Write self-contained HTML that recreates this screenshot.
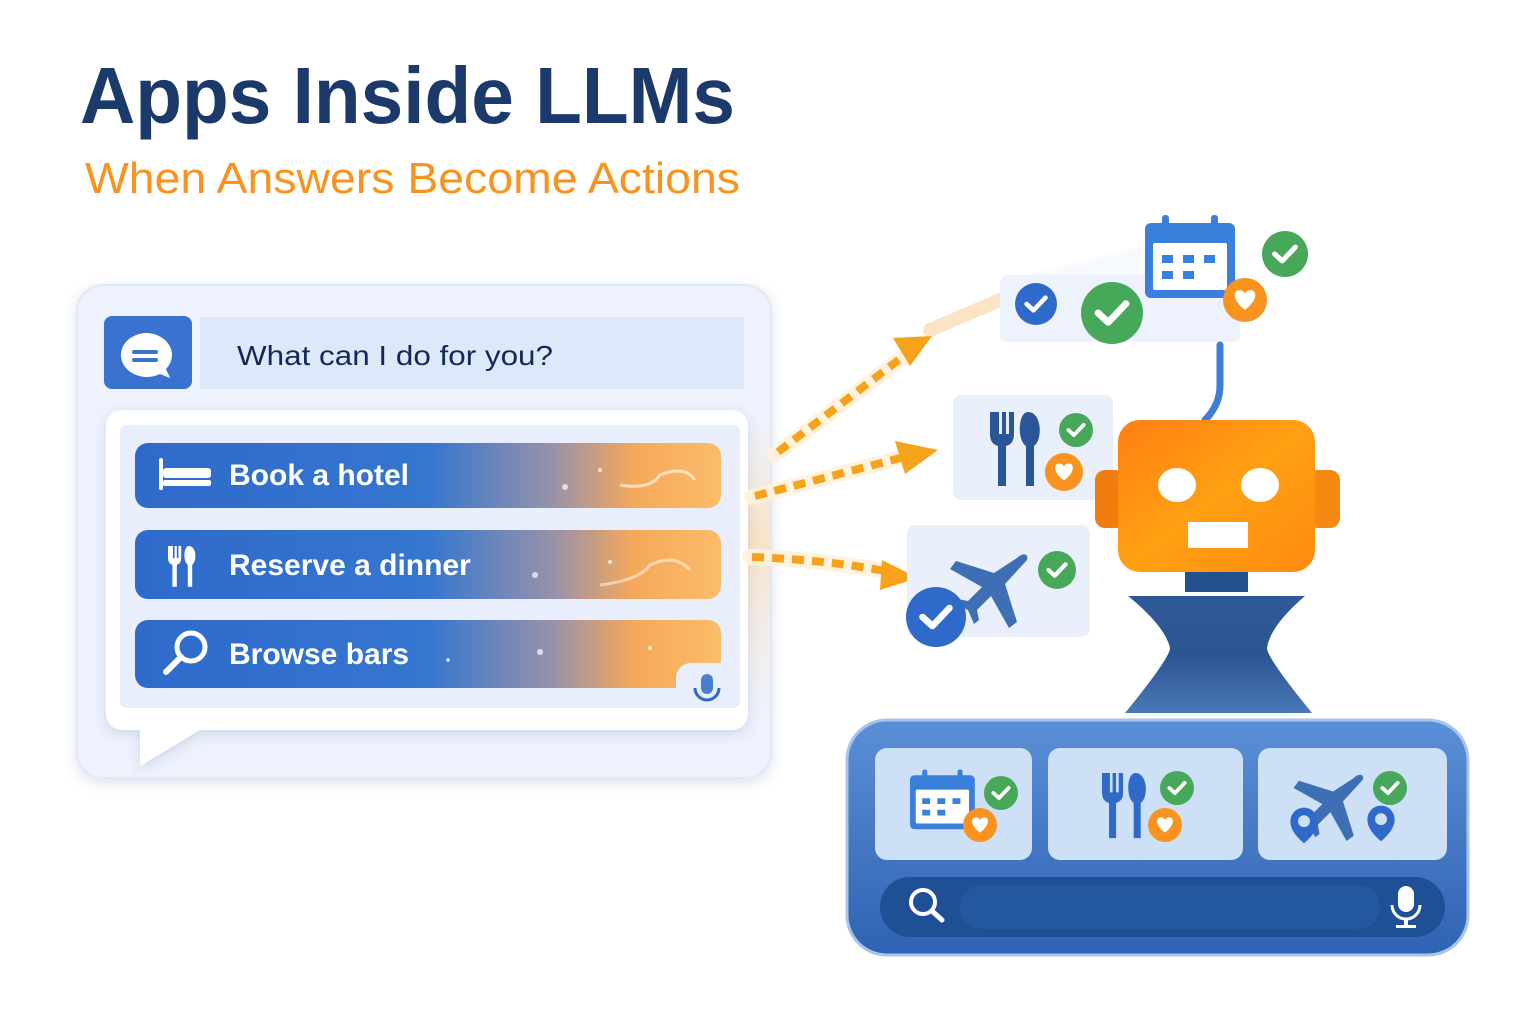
<!DOCTYPE html>
<html><head><meta charset="utf-8"><style>
html,body{margin:0;padding:0;background:#fff;width:1536px;height:1024px;overflow:hidden}
svg{display:block}
text{font-family:"Liberation Sans",sans-serif}
</style></head><body>
<svg width="1536" height="1024" viewBox="0 0 1536 1024" xmlns="http://www.w3.org/2000/svg">
<defs>
<linearGradient id="btn" x1="0" x2="1" y1="0" y2="0">
<stop offset="0" stop-color="#2f6acb"/><stop offset="0.5" stop-color="#3576cf"/><stop offset="0.72" stop-color="#9a93a8"/><stop offset="0.85" stop-color="#f5a85a"/><stop offset="1" stop-color="#fbbd6a"/>
</linearGradient>
<linearGradient id="head" x1="0" x2="1" y1="0" y2="1">
<stop offset="0" stop-color="#ff7f12"/><stop offset="0.5" stop-color="#ffa012"/><stop offset="1" stop-color="#ff8a10"/>
</linearGradient>
<linearGradient id="panel" x1="0" x2="0" y1="0" y2="1">
<stop offset="0" stop-color="#5b8fd6"/><stop offset="1" stop-color="#2f63b3"/>
</linearGradient>
<linearGradient id="hg" x1="0" x2="0" y1="0" y2="1">
<stop offset="0" stop-color="#2f5a98"/><stop offset="0.5" stop-color="#2a5590"/><stop offset="1" stop-color="#4a78b8"/>
</linearGradient>
<linearGradient id="glow" x1="0" x2="0" y1="0" y2="1">
<stop offset="0" stop-color="#ffe2b8" stop-opacity="0"/><stop offset="0.4" stop-color="#ffd9a0"/><stop offset="1" stop-color="#ffe7c7" stop-opacity="0"/>
</linearGradient>
<g id="chk"><circle r="1" /><polyline points="-0.45,0 -0.12,0.3 0.45,-0.3" fill="none" stroke="#fff" stroke-width="0.22" stroke-linecap="round" stroke-linejoin="round"/></g>
<g id="heart"><circle r="1" fill="#f7931e"/><path d="M0,0.45 C-0.6,0 -0.55,-0.45 -0.25,-0.45 C-0.1,-0.45 0,-0.35 0,-0.25 C0,-0.35 0.1,-0.45 0.25,-0.45 C0.55,-0.45 0.6,0 0,0.45Z" fill="#fff"/></g>
<g id="fork"><path d="M0,0 v22 q0,10 8,12 v40 h8 v-40 q8,-2 8,-12 v-22 h-5 v22 h-3 v-22 h-4 v22 h-3 v-22z" /><path d="M38,0 c-10,0 -11,28 -2,34 v40 h8 v-40 c9,-6 8,-34 -6,-34z"/></g>
<g id="plane"><path d="M32,-30 c6,-6 12,-4 10,2 l-22,24 l12,38 l-8,6 l-18,-32 l-14,14 l2,10 l-5,4 l-6,-14 l-14,-6 l4,-5 l10,2 l14,-14 l-32,-18 l6,-8 l38,12z"/></g>
<g id="cal"><rect x="0" y="10" width="90" height="75" rx="6" fill="#3b7fdc"/><rect x="8" y="30" width="74" height="47" rx="2" fill="#fff"/><rect x="17" y="2" width="7" height="18" rx="3" fill="#3b7fdc"/><rect x="66" y="2" width="7" height="18" rx="3" fill="#3b7fdc"/><g fill="#3b7fdc"><rect x="17" y="42" width="11" height="8"/><rect x="38" y="42" width="11" height="8"/><rect x="59" y="42" width="11" height="8"/><rect x="17" y="58" width="11" height="8"/><rect x="38" y="58" width="11" height="8"/></g></g>
<g id="pin"><path d="M0,18 c-14,-12 -16,-20 -16,-26 a16,16 0 0 1 32,0 c0,6 -2,14 -16,26z" fill="#2f6acb"/><circle cy="-8" r="7" fill="#cde0f6"/></g>
<filter id="sh" x="-10%" y="-10%" width="120%" height="130%"><feDropShadow dx="0" dy="4" stdDeviation="6" flood-color="#3a5a9a" flood-opacity="0.18"/></filter>
</defs>

<text x="80" y="123" font-size="80" font-weight="bold" fill="#1b3a6b" textLength="655" lengthAdjust="spacingAndGlyphs">Apps Inside LLMs</text>
<text x="85" y="193" font-size="44" fill="#f7931e" textLength="655" lengthAdjust="spacingAndGlyphs">When Answers Become Actions</text>

<rect x="77" y="285" width="694" height="493" rx="26" fill="#eef2fc" stroke="#e2e8f6" stroke-width="2" filter="url(#sh)"/>
<rect x="104" y="316" width="88" height="73" rx="8" fill="#3a72d0"/>
<path d="M146,333 a26,22 0 1 0 14,41 l10,4 l-4,-9 a26,22 0 0 0 -20,-36z" fill="#fff"/>
<rect x="132" y="350" width="26" height="4" rx="2" fill="#3a72d0"/><rect x="132" y="358" width="26" height="4" rx="2" fill="#3a72d0"/>
<rect x="200" y="317" width="544" height="72" fill="#dde8fa"/>
<text x="237" y="365" font-size="28" fill="#14285a" textLength="316" lengthAdjust="spacingAndGlyphs">What can I do for you?</text>

<rect x="748" y="420" width="22" height="300" fill="url(#glow)" opacity="0.6"/>

<path d="M122,410 h610 a16,16 0 0 1 16,16 v288 a16,16 0 0 1 -16,16 h-532 l-60,36 v-36 h-18 a16,16 0 0 1 -16,-16 v-288 a16,16 0 0 1 16,-16z" fill="#fff" filter="url(#sh)"/>
<rect x="120" y="425" width="620" height="283" rx="6" fill="#e8eefb"/>

<rect x="135" y="443" width="586" height="65" rx="13" fill="url(#btn)"/>
<rect x="135" y="530" width="586" height="69" rx="13" fill="url(#btn)"/>
<path d="M148,620 h560 a13,13 0 0 1 13,13 v30 h-30 a15,15 0 0 0 -15,15 v10 h-528 a13,13 0 0 1 -13,-13 v-42 a13,13 0 0 1 13,-13z" fill="url(#btn)"/>
<g fill="#fff" opacity="0.7"><circle cx="565" cy="487" r="3"/><circle cx="600" cy="470" r="2"/><circle cx="535" cy="575" r="3"/><circle cx="610" cy="562" r="2"/><circle cx="540" cy="652" r="3"/><circle cx="448" cy="660" r="2"/><circle cx="650" cy="648" r="2"/></g>
<path d="M620,485 q30,5 40,-10 q25,-10 35,5" stroke="#fff" stroke-width="3" fill="none" opacity="0.6"/>
<path d="M600,585 q40,-5 50,-20 q25,-12 40,5" stroke="#fff" stroke-width="3" fill="none" opacity="0.5"/>

<g fill="#fff">
<rect x="159" y="458" width="4" height="32" rx="2"/><rect x="163" y="468" width="48" height="10" rx="3"/><rect x="163" y="480" width="48" height="6" rx="2"/>
</g>
<use href="#fork" transform="translate(168,546) scale(0.55)" fill="#fff"/>
<circle cx="191" cy="647" r="14" fill="none" stroke="#fff" stroke-width="5"/><line x1="181" y1="657" x2="166" y2="672" stroke="#fff" stroke-width="6" stroke-linecap="round"/>
<g font-size="30" font-weight="bold" fill="#fff">
<text x="229" y="485">Book a hotel</text>
<text x="229" y="575">Reserve a dinner</text>
<text x="229" y="664">Browse bars</text>
</g>
<rect x="701" y="674" width="12" height="20" rx="6" fill="#4a7fd0"/><path d="M695,688 a12,12 0 0 0 24,0" stroke="#2f6acb" stroke-width="3" fill="none"/>

<g stroke="#fff2dc" stroke-width="16" fill="none" stroke-linecap="round" opacity="0.9">
<path d="M775,455 L910,352"/><path d="M752,497 L912,455"/><path d="M750,557 Q830,560 895,573"/>
<path d="M930,330 L1000,300" stroke="#fbe0c0" stroke-width="14"/>
</g>
<g stroke="#f7a21b" stroke-width="8" fill="none" stroke-dasharray="12,8">
<path d="M778,452 L905,355"/><path d="M755,496 L908,456"/><path d="M752,557 Q830,560 890,572"/>
</g>
<g fill="#f7a21b">
<polygon points="932,336 893,338 910,366"/>
<polygon points="938,450 895,441 905,474"/>
<polygon points="918,578 882,560 880,590"/>
</g>

<path d="M1000,282 l140,-35 l100,0 l0,95 l-240,0z" fill="#f2f6fd" opacity="0.7"/>
<rect x="1000" y="275" width="240" height="67" rx="8" fill="#edf2fc"/>
<use href="#chk" transform="translate(1036,304) scale(21)" fill="#2f6acb"/>
<use href="#chk" transform="translate(1112,313) scale(31)" fill="#48a85a"/>
<use href="#cal" transform="translate(1145,213)"/>
<use href="#chk" transform="translate(1285,254) scale(23)" fill="#48a85a"/>
<use href="#heart" transform="translate(1245,300) scale(22)"/>

<rect x="953" y="395" width="160" height="105" rx="8" fill="#e9f0fc"/>
<use href="#fork" transform="translate(990,412)" fill="#2a5596"/>
<use href="#chk" transform="translate(1076,430) scale(17)" fill="#48a85a"/>
<use href="#heart" transform="translate(1064,472) scale(19)"/>

<rect x="907" y="525" width="183" height="112" rx="8" fill="#e9f0fc"/>
<use href="#plane" transform="translate(985,588)" fill="#3e6fb5"/>
<use href="#chk" transform="translate(1057,570) scale(19)" fill="#48a85a"/>
<use href="#chk" transform="translate(936,617) scale(30)" fill="#2f6acb"/>

<path d="M1220,345 v40 q0,20 -15,35" stroke="#3d7fd6" stroke-width="7" fill="none" stroke-linecap="round"/>
<rect x="1095" y="470" width="30" height="58" rx="10" fill="#f07d10"/>
<rect x="1308" y="470" width="32" height="58" rx="10" fill="#f58a12"/>
<rect x="1118" y="420" width="197" height="152" rx="22" fill="url(#head)"/>
<ellipse cx="1177" cy="485" rx="19" ry="17" fill="#fff"/>
<ellipse cx="1260" cy="485" rx="19" ry="17" fill="#fff"/>
<rect x="1188" y="522" width="60" height="26" fill="#fff"/>
<rect x="1185" y="572" width="63" height="20" fill="#23508e"/>
<path d="M1128,596 h177 q-35,30 -38,52 q0,10 45,65 h-187 q45,-55 45,-65 q-5,-22 -42,-52z" fill="url(#hg)"/>

<rect x="847" y="720" width="621" height="235" rx="40" fill="url(#panel)" stroke="#a8c4ea" stroke-width="3"/>
<rect x="875" y="748" width="157" height="112" rx="12" fill="#cde0f6"/>
<rect x="1048" y="748" width="195" height="112" rx="12" fill="#cde0f6"/>
<rect x="1258" y="748" width="189" height="112" rx="12" fill="#cde0f6"/>
<use href="#cal" transform="translate(910,768) scale(0.72)"/>
<use href="#chk" transform="translate(1001,793) scale(17)" fill="#48a85a"/>
<use href="#heart" transform="translate(980,825) scale(17)"/>
<use href="#fork" transform="translate(1102,773) scale(0.88)" fill="#2f6acb"/>
<use href="#chk" transform="translate(1177,788) scale(17)" fill="#48a85a"/>
<use href="#heart" transform="translate(1165,825) scale(17)"/>
<use href="#plane" transform="translate(1325,805) scale(0.9)" fill="#3e6fb5"/>
<use href="#pin" transform="translate(1304,828) scale(0.85)"/>
<use href="#pin" transform="translate(1381,826) scale(0.85)"/>
<use href="#chk" transform="translate(1390,788) scale(17)" fill="#48a85a"/>
<rect x="880" y="877" width="565" height="60" rx="30" fill="#1f4f95"/>
<rect x="960" y="885" width="420" height="44" rx="22" fill="#23579e"/>
<circle cx="923" cy="902" r="12" fill="none" stroke="#fff" stroke-width="4"/><line x1="932" y1="911" x2="942" y2="920" stroke="#fff" stroke-width="5" stroke-linecap="round"/>
<rect x="1398" y="886" width="16" height="26" rx="8" fill="#fff"/><path d="M1392,905 a14,14 0 0 0 28,0" stroke="#fff" stroke-width="3" fill="none"/><rect x="1404" y="918" width="4" height="8" fill="#fff"/><rect x="1396" y="925" width="20" height="3" fill="#fff"/>
</svg>
</body></html>
